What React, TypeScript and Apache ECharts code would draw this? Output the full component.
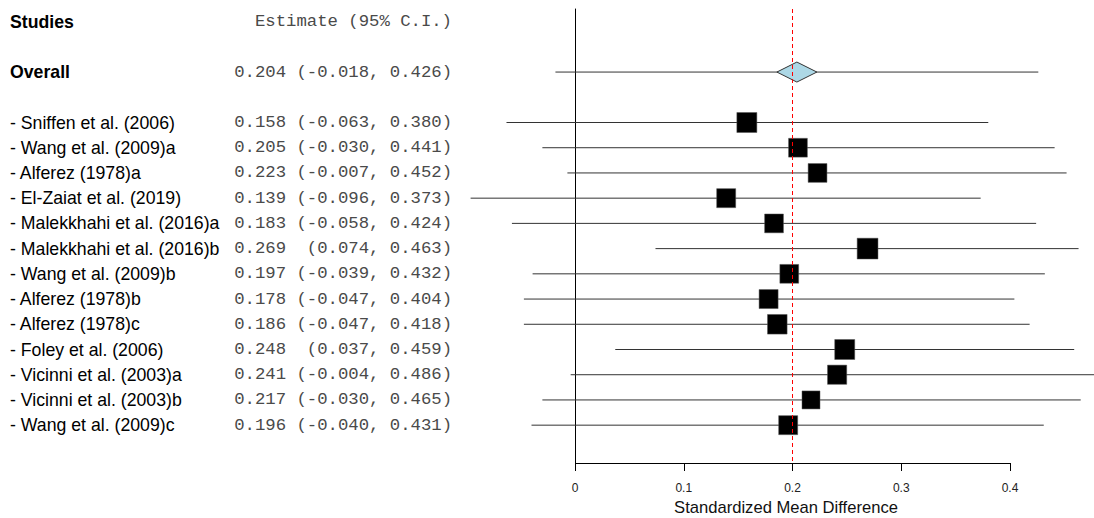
import React, { useEffect, useRef } from "react";
import * as echarts from "echarts";

// Study-level standardized mean differences with 95% confidence limits
const studies = [
  "Sniffen et al. (2006)",
  "Wang et al. (2009)a",
  "Alferez (1978)a",
  "El-Zaiat et al. (2019)",
  "Malekkhahi et al. (2016)a",
  "Malekkhahi et al. (2016)b",
  "Wang et al. (2009)b",
  "Alferez (1978)b",
  "Alferez (1978)c",
  "Foley et al. (2006)",
  "Vicinni et al. (2003)a",
  "Vicinni et al. (2003)b",
  "Wang et al. (2009)c",
];
const estimates = [0.158, 0.205, 0.223, 0.139, 0.183, 0.269, 0.197, 0.178, 0.186, 0.248, 0.241, 0.217, 0.196];
const lower = [-0.063, -0.03, -0.007, -0.096, -0.058, 0.074, -0.039, -0.047, -0.047, 0.037, -0.004, -0.03, -0.04];
const upper = [0.38, 0.441, 0.452, 0.373, 0.424, 0.463, 0.432, 0.404, 0.418, 0.459, 0.486, 0.465, 0.431];
// Relative study weights (square side scales with these)
const weights = [1.0, 0.94, 0.94, 0.95, 0.94, 1.04, 0.94, 0.95, 0.98, 1.0, 0.96, 0.9, 0.95];

// Pooled estimate
const overallEstimate = 0.204;
const overallLower = -0.018;
const overallUpper = 0.426;

const xTicks = [0, 0.1, 0.2, 0.3, 0.4];
const xTitle = "Standardized Mean Difference";

const NBSP = "\u00A0";
const fmt = (e: number, l: number, u: number) =>
  `${e.toFixed(3)} ${l >= 0 ? NBSP : ""}(${l.toFixed(3)}, ${u.toFixed(3)})`;

type Row = { label: string; est: string; pos: number; bold?: boolean };

const tableRows: Row[] = [
  { label: "Studies", est: "Estimate (95% C.I.)", pos: -2, bold: true },
  { label: "Overall", est: fmt(overallEstimate, overallLower, overallUpper), pos: 0, bold: true },
  ...studies.map((s, i) => ({
    label: "- " + s,
    est: fmt(estimates[i], lower[i], upper[i]),
    pos: i + 2,
  })),
];

const SANS = "'Liberation Sans', Arial, sans-serif";
const MONO = "'Liberation Mono', 'Courier New', monospace";

export default function App() {
  const ref = useRef<HTMLDivElement>(null);

  useEffect(() => {
    if (!ref.current) return;
    const chart = echarts.init(ref.current, undefined, { renderer: "svg" });

    const studyData = studies.map((_, i) => [estimates[i], i + 2, lower[i], upper[i], weights[i]]);

    chart.setOption({
      animation: false,
      backgroundColor: "#ffffff",
      grid: { left: 357.5, right: 0, top: 9, bottom: 55, containLabel: false },
      xAxis: {
        type: "value",
        min: -0.2,
        max: 0.4772,
        interval: 0.1,
        axisLine: { show: false, onZero: false },
        splitLine: { show: false },
        axisTick: {
          show: true,
          customValues: xTicks,
          length: 8,
          lineStyle: { color: "#000", width: 1 },
        },
        axisLabel: {
          show: true,
          customValues: xTicks,
          margin: 19,
          fontSize: 12,
          fontFamily: SANS,
          color: "#222",
          formatter: (v: number) => (v === 0 ? "0" : String(Math.round(v * 10) / 10)),
        },
      },
      yAxis: {
        type: "value",
        inverse: true,
        min: -2.5,
        max: 15.5,
        axisLine: { show: true, onZero: true, lineStyle: { color: "#000", width: 1 } },
        axisTick: { show: false },
        axisLabel: { show: false },
        splitLine: { show: false },
      },
      graphic: [
        {
          type: "text",
          x: 786,
          y: 507,
          style: {
            text: xTitle,
            fontSize: 16.6,
            fontFamily: SANS,
            fill: "#111",
            align: "center",
            verticalAlign: "middle",
          },
        },
      ],
      series: [
        {
          type: "custom",
          name: "table",
          data: tableRows.map((r) => [0, r.pos]),
          renderItem: (params: any, api: any) => {
            const r = tableRows[params.dataIndex];
            const y = api.coord([0, r.pos])[1];
            return {
              type: "group",
              children: [
                {
                  type: "text",
                  x: 10,
                  y,
                  style: {
                    text: r.label,
                    fontSize: 17.7,
                    fontFamily: SANS,
                    fontWeight: r.bold ? "bold" : "normal",
                    fill: "#000",
                    align: "left",
                    verticalAlign: "middle",
                  },
                },
                {
                  type: "text",
                  x: 452,
                  y,
                  style: {
                    text: r.est,
                    fontSize: 17.3,
                    fontFamily: MONO,
                    fill: "#4a4a4a",
                    align: "right",
                    verticalAlign: "middle",
                  },
                },
              ],
            };
          },
          z: 5,
        },
        {
          type: "custom",
          name: "studies",
          data: studyData,
          encode: { x: 0, y: 1 },
          renderItem: (params: any, api: any) => {
            const est = api.value(0);
            const pos = api.value(1);
            const lo = api.value(2);
            const hi = api.value(3);
            const w = api.value(4);
            const c = api.coord([est, pos]);
            const l = api.coord([lo, pos]);
            const h = api.coord([hi, pos]);
            const s = 20 * w;
            return {
              type: "group",
              children: [
                {
                  type: "line",
                  shape: { x1: l[0], y1: c[1], x2: h[0], y2: c[1] },
                  style: { stroke: "#333", lineWidth: 1 },
                },
                {
                  type: "rect",
                  shape: { x: c[0] - s / 2, y: c[1] - s / 2, width: s, height: s },
                  style: { fill: "#000", stroke: "#555", lineWidth: 0.5 },
                },
              ],
            };
          },
          z: 2,
        },
        {
          // Reference lines: pooled estimate and the x axis baseline
          type: "line",
          name: "refs",
          data: [],
          z: 3,
          markLine: {
            silent: true,
            symbol: "none",
            label: { show: false },
            data: [
              {
                xAxis: overallEstimate,
                lineStyle: { color: "#ff0000", type: [4, 3], width: 1 },
              },
              [
                { coord: [xTicks[0], 15.5], lineStyle: { color: "#000", type: "solid", width: 1 } },
                { coord: [xTicks[xTicks.length - 1], 15.5] },
              ],
            ],
          },
        },
        {
          type: "custom",
          name: "overall",
          data: [[overallEstimate, 0, overallLower, overallUpper]],
          encode: { x: 0, y: 1 },
          renderItem: (params: any, api: any) => {
            const c = api.coord([api.value(0), api.value(1)]);
            const l = api.coord([api.value(2), api.value(1)]);
            const h = api.coord([api.value(3), api.value(1)]);
            return {
              type: "group",
              children: [
                {
                  type: "line",
                  shape: { x1: l[0], y1: c[1], x2: h[0], y2: c[1] },
                  style: { stroke: "#333", lineWidth: 1 },
                },
                {
                  type: "polygon",
                  shape: {
                    points: [
                      [c[0] - 20, c[1]],
                      [c[0], c[1] - 10],
                      [c[0] + 20, c[1]],
                      [c[0], c[1] + 10],
                    ],
                  },
                  style: { fill: "#ADD8E6", stroke: "#333", lineWidth: 1 },
                },
              ],
            };
          },
          z: 4,
        },
      ],
    });

    return () => chart.dispose();
  }, []);

  return (
    <div
      ref={ref}
      style={{ position: "absolute", left: 0, top: 0, width: 1094, height: 518 }}
    />
  );
}
